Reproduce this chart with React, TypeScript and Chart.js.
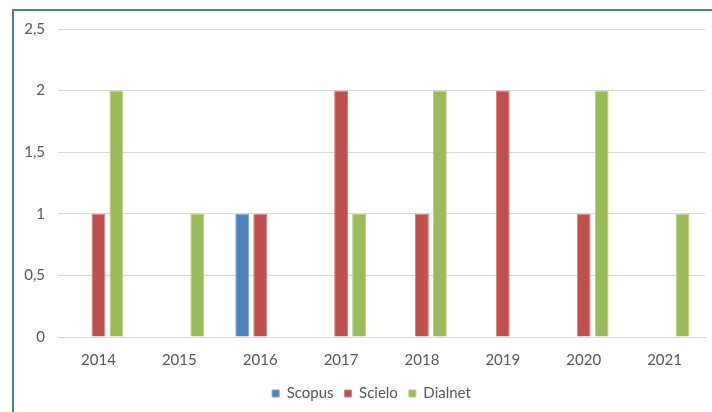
import React, { useEffect, useRef } from "react";
import { Chart, registerables } from "chart.js";

Chart.register(...registerables);

const categories = ["2014", "2015", "2016", "2017", "2018", "2019", "2020", "2021"];
const scopus = [0, 0, 1, 0, 0, 0, 0, 0];
const scielo = [1, 0, 1, 2, 1, 2, 1, 0];
const dialnet = [2, 1, 0, 1, 2, 0, 2, 1];
const yTicks = [0, 0.5, 1, 1.5, 2, 2.5];

const FONT = "Lato, 'Open Sans', sans-serif";

const shiftLegend = {
  id: "shiftLegend",
  afterLayout(chart: any) {
    const lg = chart.legend;
    if (lg) {
      lg.left += 19;
      lg.right += 19;
    }
  },
};

export default function App() {
  const ref = useRef<HTMLCanvasElement | null>(null);
  useEffect(() => {
    if (!ref.current) return;
    const chart = new Chart(ref.current, {
      type: "bar",
      data: {
        labels: categories,
        datasets: [
          { label: "Scopus", data: scopus, backgroundColor: "#4F81BD", borderColor: "#7FA3D1", borderWidth: 1 },
          { label: "Scielo", data: scielo, backgroundColor: "#C0504D", borderColor: "#D9827F", borderWidth: 1 },
          { label: "Dialnet", data: dialnet, backgroundColor: "#9BBB59", borderColor: "#B9D08A", borderWidth: 1 },
        ],
      },
      plugins: [shiftLegend],
      options: {
        animation: false,
        responsive: false,
        maintainAspectRatio: false,
        datasets: { bar: { categoryPercentage: 0.667, barPercentage: 0.77 } },
        layout: { padding: { left: 0, right: 7, top: 29, bottom: 1 } },
        plugins: {
          tooltip: { enabled: false },
          legend: {
            position: "bottom",
            labels: {
              boxWidth: 7,
              boxHeight: 7,
              color: "#595959",
              font: { family: FONT, size: 15 },
              padding: 11,
            },
          },
        },
        scales: {
          x: {
            grid: { display: false },
            border: { display: true, color: "#D9D9D9" },
            ticks: { color: "#595959", font: { family: FONT, size: 15 }, padding: 6 },
          },
          y: {
            min: 0,
            max: 2.5,
            afterFit: (s: any) => { s.width = 58; },
            afterBuildTicks: (s: any) => { s.ticks = yTicks.map((v) => ({ value: v })); },
            grid: { color: "#D9D9D9", drawTicks: false },
            border: { display: false },
            ticks: {
              color: "#595959",
              font: { family: FONT, size: 15 },
              padding: 13,
              callback: (v: any) => String(v).replace(".", ","),
            },
          },
        },
      },
    });
    return () => chart.destroy();
  }, []);
  return (
    <div style={{ position: "fixed", left: 0, top: 0, width: 712, height: 412, background: "#fff", overflow: "hidden" }}>
      <div style={{ position: "absolute", left: 12, top: 9, width: 720, height: 420, borderLeft: "2px solid #4A7EBB", borderTop: "2px solid #4A7EBB" }} />
      <canvas ref={ref} width={712} height={412} style={{ position: "absolute", left: 0, top: 0, width: 712, height: 412 }} />
    </div>
  );
}
